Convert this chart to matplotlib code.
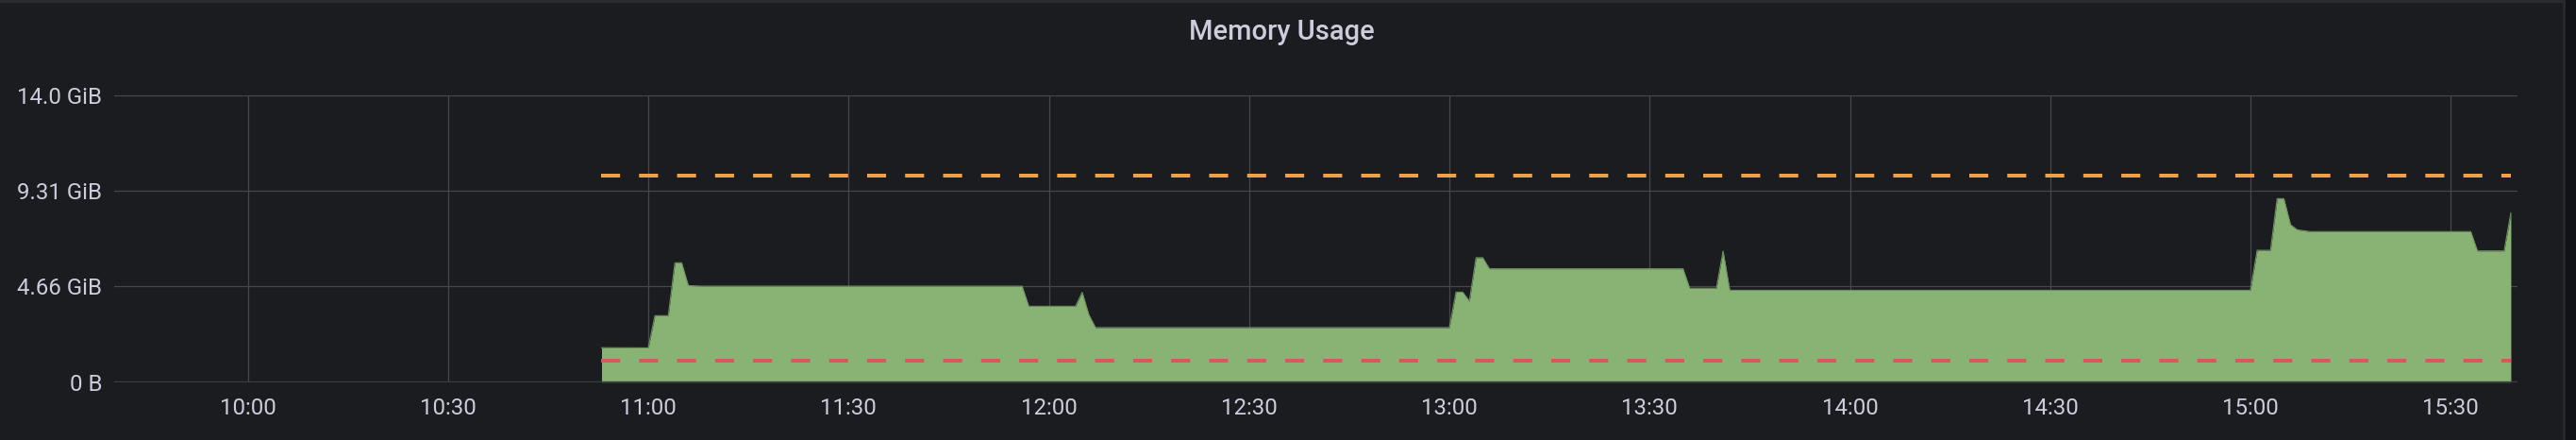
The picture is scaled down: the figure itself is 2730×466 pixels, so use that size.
import matplotlib
matplotlib.use("agg")
import matplotlib.pyplot as plt
from matplotlib.patches import Rectangle
import pandas as pd

# memory samples (GiB)
times = ["10:53", "11:00", "11:01", "11:03", "11:04", "11:05", "11:06", "11:08",
         "11:56", "11:57", "12:04", "12:05", "12:06", "12:07",
         "13:00", "13:01", "13:02", "13:03", "13:04", "13:05", "13:06",
         "13:35", "13:36", "13:40", "13:41", "13:42",
         "15:00", "15:01", "15:03", "15:04", "15:05", "15:06", "15:07", "15:09",
         "15:33", "15:34", "15:38", "15:39"]
usage = [1.68, 1.67, 3.24, 3.24, 5.82, 5.82, 4.71, 4.68,
         4.68, 3.70, 3.70, 4.38, 3.29, 2.66,
         2.66, 4.39, 4.39, 3.95, 6.07, 6.07, 5.53,
         5.53, 4.58, 4.58, 6.39, 4.48,
         4.48, 6.43, 6.43, 8.95, 8.95, 7.68, 7.43, 7.34,
         7.34, 6.40, 6.40, 8.25]
limit_gib = 10.07
request_gib = 1.06

ytick_vals = [0, 14 / 3, 28 / 3, 14]
ytick_labels = ["0 B", "4.66 GiB", "9.31 GiB", "14.0 GiB"]
xtick_labels = ["10:00", "10:30", "11:00", "11:30", "12:00", "12:30",
                "13:00", "13:30", "14:00", "14:30", "15:00", "15:30"]

day = "2021-01-01 "
t = pd.to_datetime([day + s for s in times])
xt = pd.to_datetime([day + s for s in xtick_labels])

bg = "#1b1c20"
txt = "#ccccdc"
grid = "#46474b"

plt.rcParams['font.family'] = ['Roboto', 'DejaVu Sans']

fig = plt.figure(figsize=(27.3, 4.66), dpi=100)
fig.patch.set_facecolor("#111217")
# panel background + borders
fig.patches.append(Rectangle((0, 0), 2716 / 2730, 1, transform=fig.transFigure,
                             facecolor=bg, edgecolor="none", zorder=-10))
fig.patches.append(Rectangle((2716 / 2730, 0), 3 / 2730, 1, transform=fig.transFigure,
                             facecolor="#27282c", edgecolor="none", zorder=-9))
fig.patches.append(Rectangle((0, 1 - 3 / 466), 2716 / 2730, 3 / 466, transform=fig.transFigure,
                             facecolor="#2a2b30", edgecolor="none", zorder=-9))

ax = fig.add_axes([121 / 2730, 1 - 404.7 / 466, (2668 - 121) / 2730, (404.7 - 100.7) / 466])
ax.set_facecolor(bg)

ax.fill_between(t, usage, 0, color="#89b275", linewidth=0, zorder=2)
ax.plot(t, usage, color="#6f8f5f", linewidth=0.8, zorder=3)

ax.plot([t[0], t[-1]], [limit_gib, limit_gib], color="#f0a048", linewidth=2.9,
        linestyle=(0, (5, 5)), zorder=4)
ax.plot([t[0], t[-1]], [request_gib, request_gib], color="#dc5660", linewidth=2.9,
        linestyle=(0, (5, 5)), zorder=4)

ax.set_xlim(pd.Timestamp(day + "09:40"), pd.Timestamp(day + "15:40"))
ax.set_ylim(0, 14)
ax.set_yticks(ytick_vals)
ax.set_yticklabels(ytick_labels)
ax.set_xticks(xt)
ax.set_xticklabels(xtick_labels)

ax.grid(True, color=grid, linewidth=0.9, zorder=1)
ax.set_axisbelow(True)
ax.axhline(0, color="#3e3f44", linewidth=2.4, zorder=5)
for s in ax.spines.values():
    s.set_visible(False)
ax.tick_params(axis="both", length=0, colors=txt, labelsize=17.3)
ax.tick_params(axis="y", pad=9)
ax.tick_params(axis="x", pad=12)

fig.text(0.4975, 1 - 33.7 / 466, "Memory Usage", ha="center", va="center",
         color=txt, fontsize=21, fontweight="medium")

fig.savefig("out.png", dpi=100, facecolor=fig.get_facecolor())
